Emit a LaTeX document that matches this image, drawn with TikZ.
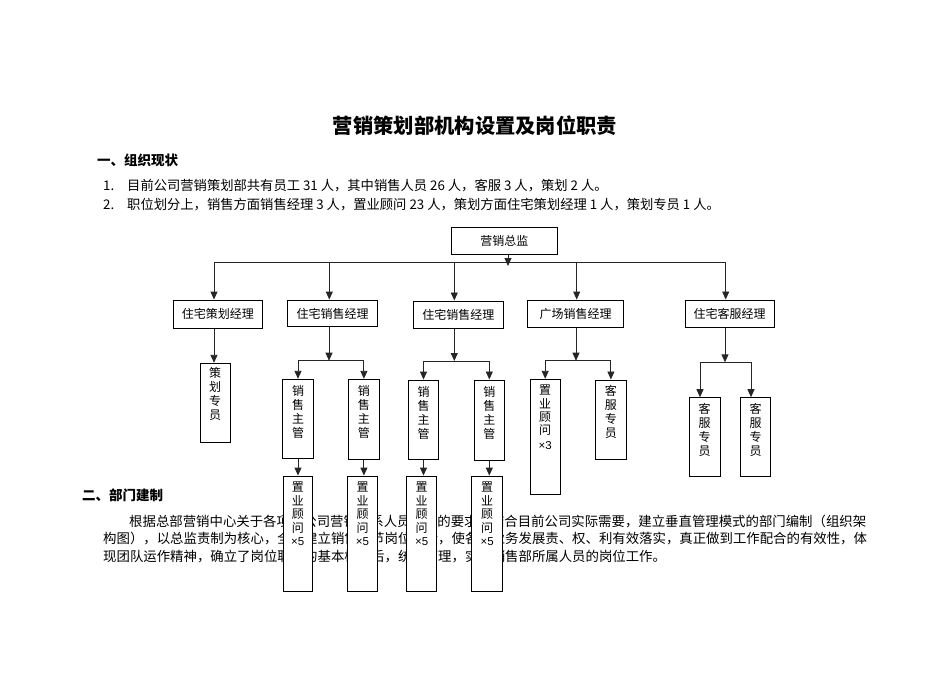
\documentclass[tikz,border=0pt]{standalone}
\usepackage{fontspec}
\usetikzlibrary{arrows.meta}
\newfontfamily\hei{Noto Sans CJK SC}
\newfontfamily\song{Noto Sans CJK SC}
\newfontfamily\ari{Liberation Sans}
\begin{document}
\begin{tikzpicture}[x=1pt,y=-1pt,
  box/.style={draw=black, line width=1pt, fill=white, inner sep=0pt, font=\song\fontsize{12}{14}\selectfont},
  conn/.style={line width=0.9pt, draw=black!85},
  arr/.style={conn, -{Triangle[width=7pt,length=8pt]}},
  body/.style={anchor=base west, inner sep=0pt, font=\song\fontsize{13.4}{16}\selectfont},
  lst/.style={anchor=base west, inner sep=0pt, font=\song\fontsize{13.3}{16}\selectfont},
  head/.style={anchor=base west, inner sep=0pt, font=\hei\bfseries\fontsize{13.5}{16}\selectfont},
  vtxt/.style={anchor=north, inner sep=0pt, align=center, font=\song\fontsize{12}{14}\selectfont},
  vtxtb/.style={anchor=north, inner sep=0pt, align=center, font=\song\fontsize{12}{13.4}\selectfont}]
\fill[white] (0,0) rectangle (950,672);
\useasboundingbox (0,0) rectangle (950,672);

% texts
\node[anchor=base, inner sep=0pt, font=\hei\bfseries\fontsize{20.3}{24}\selectfont] (title) at (475,133) {营销策划部机构设置及岗位职责};
\node[head] (h1) at (97,165) {一、组织现状};
\node[lst] (n1) at (103,190) {1.};
\node[lst] (l1) at (127,190) {目前公司营销策划部共有员工 31 人，其中销售人员 26 人，客服 3 人，策划 2 人。};
\node[lst] (n2) at (103,209) {2.};
\node[lst] (l2) at (127,209) {职位划分上，销售方面销售经理 3 人，置业顾问 23 人，策划方面住宅策划经理 1 人，策划专员 1 人。};
\node[head] (h2) at (82,500) {二、部门建制};
\node[body] (p1) at (129,526) {根据总部营销中心关于各项目公司营销体系人员编制的要求，结合目前公司实际需要，建立垂直管理模式的部门编制（组织架};
\node[body] (p2) at (103,543.5) {构图），以总监责制为核心，全面建立销售环节岗位职责，使各项业务发展责、权、利有效落实，真正做到工作配合的有效性，体};
\node[body] (p3) at (103,561) {现团队运作精神，确立了岗位职责的基本框架后，统一管理，实现销售部所属人员的岗位工作。};

% level 1 and 2 boxes
\node[box, minimum width=105.3, minimum height=27] (dir) at (504.4,240.5) {营销总监};
\node[box, minimum width=89, minimum height=28.3] (m1) at (217.8,314.2) {住宅策划经理};
\node[box, minimum width=89.6, minimum height=26.7] (m2) at (332.5,313.4) {住宅销售经理};
\node[box, minimum width=90, minimum height=27] (m3) at (458.3,314.5) {住宅销售经理};
\node[box, minimum width=95.6, minimum height=27.3] (m4) at (575.5,313.7) {广场销售经理};
\node[box, minimum width=89.3, minimum height=27] (m5) at (729.7,313.5) {住宅客服经理};

% level 3 boxes
\node[box, minimum width=30.3, minimum height=79.4] (q1) at (215.2,403) {};
\node[box, minimum width=30.6, minimum height=79] (s1) at (298,418.8) {};
\node[box, minimum width=30.3, minimum height=80] (s2) at (363.9,419.3) {};
\node[box, minimum width=30.4, minimum height=79.3] (s3) at (423.5,419.7) {};
\node[box, minimum width=30, minimum height=80] (s4) at (489.3,420) {};
\node[box, minimum width=30.3, minimum height=115] (g1) at (545.2,436.8) {};
\node[box, minimum width=30.3, minimum height=79] (g2) at (610.9,419.5) {};
\node[box, minimum width=30.7, minimum height=79] (k1) at (704.7,437.2) {};
\node[box, minimum width=30, minimum height=79] (k2) at (755.7,437.2) {};
% level 4 boxes
\node[box, minimum width=29, minimum height=115.7] (z1) at (297.8,533.9) {};
\node[box, minimum width=29.6, minimum height=115.7] (z2) at (362.5,533.9) {};
\node[box, minimum width=30, minimum height=115.7] (z3) at (421.7,533.9) {};
\node[box, minimum width=31, minimum height=115.7] (z4) at (487.2,533.9) {};

% vertical texts
\node[vtxt] (q1t) at ([yshift=-4pt]q1.north) {策\\划\\专\\员};
\node[vtxt] (s1t) at ([yshift=-6.5pt]s1.north) {销\\售\\主\\管};
\node[vtxt] (s2t) at ([yshift=-6.5pt]s2.north) {销\\售\\主\\管};
\node[vtxt] (s3t) at ([yshift=-6.5pt]s3.north) {销\\售\\主\\管};
\node[vtxt] (s4t) at ([yshift=-6.5pt]s4.north) {销\\售\\主\\管};
\node[vtxtb] (g1t) at ([yshift=-6pt]g1.north) {置\\业\\顾\\问\\[1.5pt]{\ari\fontsize{11.5}{13}\selectfont ×3}};
\node[vtxt] (g2t) at ([yshift=-5.5pt]g2.north) {客\\服\\专\\员};
\node[vtxt] (k1t) at ([yshift=-5.5pt]k1.north) {客\\服\\专\\员};
\node[vtxt] (k2t) at ([yshift=-5.5pt]k2.north) {客\\服\\专\\员};
\node[vtxtb] (z1t) at ([yshift=-6.5pt]z1.north) {置\\业\\顾\\问\\{\ari\fontsize{11.5}{13}\selectfont ×5}};
\node[vtxtb] (z2t) at ([yshift=-6.5pt]z2.north) {置\\业\\顾\\问\\{\ari\fontsize{11.5}{13}\selectfont ×5}};
\node[vtxtb] (z3t) at ([yshift=-6.5pt]z3.north) {置\\业\\顾\\问\\{\ari\fontsize{11.5}{13}\selectfont ×5}};
\node[vtxtb] (z4t) at ([yshift=-6.5pt]z4.north) {置\\业\\顾\\问\\{\ari\fontsize{11.5}{13}\selectfont ×5}};

% connectors: top bus
\coordinate (dj) at (508,266);
\coordinate (t1) at (214,262);
\coordinate (t2) at (329.3,262);
\coordinate (t3) at (454.3,262);
\coordinate (t4) at (576.7,262);
\coordinate (t5) at (725.7,262);
\draw[conn] (t1) -- (t5);
\draw[arr] (dj |- dir.south) -- (dj);
\draw[arr] (t1) -- (t1 |- m1.north);
\draw[arr] (t2) -- (t2 |- m2.north);
\draw[arr] (t3) -- (t3 |- m3.north);
\draw[arr] (t4) -- (t4 |- m4.north);
\draw[arr] (t5) -- (t5 |- m5.north);

% level 2 -> 3
\draw[arr] (t1 |- m1.south) -- (t1 |- q1.north);
\coordinate (j2) at (329,360.7);
\draw[arr] (j2 |- m2.south) -- (j2);
\draw[conn] (s1 |- j2) -- (s2 |- j2);
\draw[arr] (s1 |- j2) -- (s1.north);
\draw[arr] (s2 |- j2) -- (s2.north);
\coordinate (j3) at (454.3,361);
\draw[arr] (j3 |- m3.south) -- (j3);
\draw[conn] (s3 |- j3) -- (s4 |- j3);
\draw[arr] (s3 |- j3) -- (s3.north);
\draw[arr] (s4 |- j3) -- (s4.north);
\coordinate (j4) at (576,360.7);
\draw[arr] (j4 |- m4.south) -- (j4);
\draw[conn] (g1 |- j4) -- (g2 |- j4);
\draw[arr] (g1 |- j4) -- (g1.north);
\draw[arr] (g2 |- j4) -- (g2.north);
\coordinate (j5) at (725,362.3);
\coordinate (ka) at (700,362.3);
\coordinate (kb) at (751,362.3);
\draw[arr] (j5 |- m5.south) -- (j5);
\draw[conn] (ka) -- (kb);
\draw[arr] (ka) -- (ka |- k1.north);
\draw[arr] (kb) -- (kb |- k2.north);

% level 3 -> 4
\draw[arr] (s1.south) -- (s1.south |- z1.north);
\draw[arr] (s2.south) -- (s2.south |- z2.north);
\draw[arr] (s3.south) -- (s3.south |- z3.north);
\draw[arr] (s4.south) -- (s4.south |- z4.north);
\end{tikzpicture}
\end{document}
